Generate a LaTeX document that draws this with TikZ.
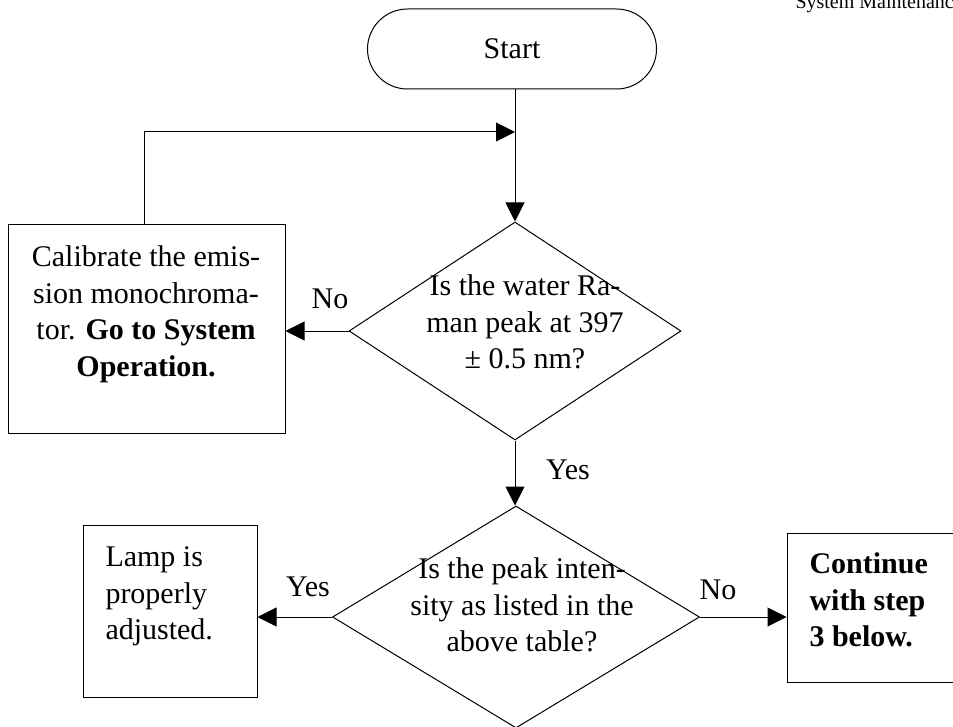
\documentclass[tikz,border=0pt]{standalone}
\usepackage{fontspec}
\setmainfont{Liberation Serif}
\usetikzlibrary{arrows.meta,shapes.geometric}
\begin{document}
\begin{tikzpicture}[x=1pt,y=-1pt,
  line width=1pt,
  txt/.style={font=\fontsize{30}{36.5}\selectfont, inner sep=0pt},
  boxshape/.style={draw, rectangle, inner sep=0pt},
  dmd/.style={draw, diamond, inner sep=0pt},
  arr/.style={-{Triangle[length=19pt,width=19pt]}},
  lbl/.style={font=\fontsize{30}{36}\selectfont, inner sep=0pt}
]
\useasboundingbox (0,0) rectangle (953,727);
\clip (0,0) rectangle (953,727);

% header
\node[anchor=base west, inner sep=0pt, font=\fontsize{20}{24}\selectfont] (hdr) at (795,8.5) {System Maintenanc};

% start
\node[draw, rectangle, rounded corners=40pt, minimum width=289pt, minimum height=80pt, inner sep=0pt, txt] (start) at (512,49) {Start};

% decision 1
\node[dmd, minimum width=332pt, minimum height=218pt] (d1) at (515,331) {};
\node[txt, align=center, anchor=north] (d1t) at (525,274.5) {Is the water Ra-\\man peak at 397\\± 0.5 nm?};

% calibrate box
\node[boxshape, minimum width=277pt, minimum height=208pt] (cal) at (146.5,329) {};
\node[txt, align=center, anchor=north] (calt) at (146,245.5) {Calibrate the emis-\\sion monochroma-\\tor. \textbf{Go to System}\\\textbf{Operation.}};

% decision 2
\node[dmd, minimum width=367pt, minimum height=222pt] (d2) at (516,617) {};
\node[txt, align=center, anchor=north] (d2t) at (522,557.5) {Is the peak inten-\\sity as listed in the\\above table?};

% lamp box
\node[boxshape, minimum width=174pt, minimum height=172pt] (lamp) at (170,611) {};
\node[txt, align=left, anchor=north west] (lampt) at (105,546.5) {Lamp is\\properly\\adjusted.};

% continue box
\node[boxshape, minimum width=178pt, minimum height=149pt] (cont) at (876,607.5) {};
\node[txt, align=left, anchor=north west, font=\fontsize{30}{36.5}\selectfont\bfseries] (contt) at (809,552.5) {Continue\\with step\\3 below.};

% connectors
\coordinate (j) at (515,132);
\draw[arr] (start.south -| d1.north) -- (d1.north);
\draw[arr] (cal.north -| 144,0) |- (j);
\draw[arr] (d1.west) -- (d1.west -| cal.east);
\draw[arr] (d1.south) -- (d2.north -| d1.south);
\draw[arr] (d2.west) -- (d2.west -| lamp.east);
\draw[arr] (d2.east) -- (d2.east -| cont.west);

% labels
\node[lbl] (no1) at (330,299) {No};
\node[lbl] (yes1) at (568,470) {Yes};
\node[lbl] (yes2) at (308,587) {Yes};
\node[lbl] (no2) at (718,590) {No};
\end{tikzpicture}
\end{document}
